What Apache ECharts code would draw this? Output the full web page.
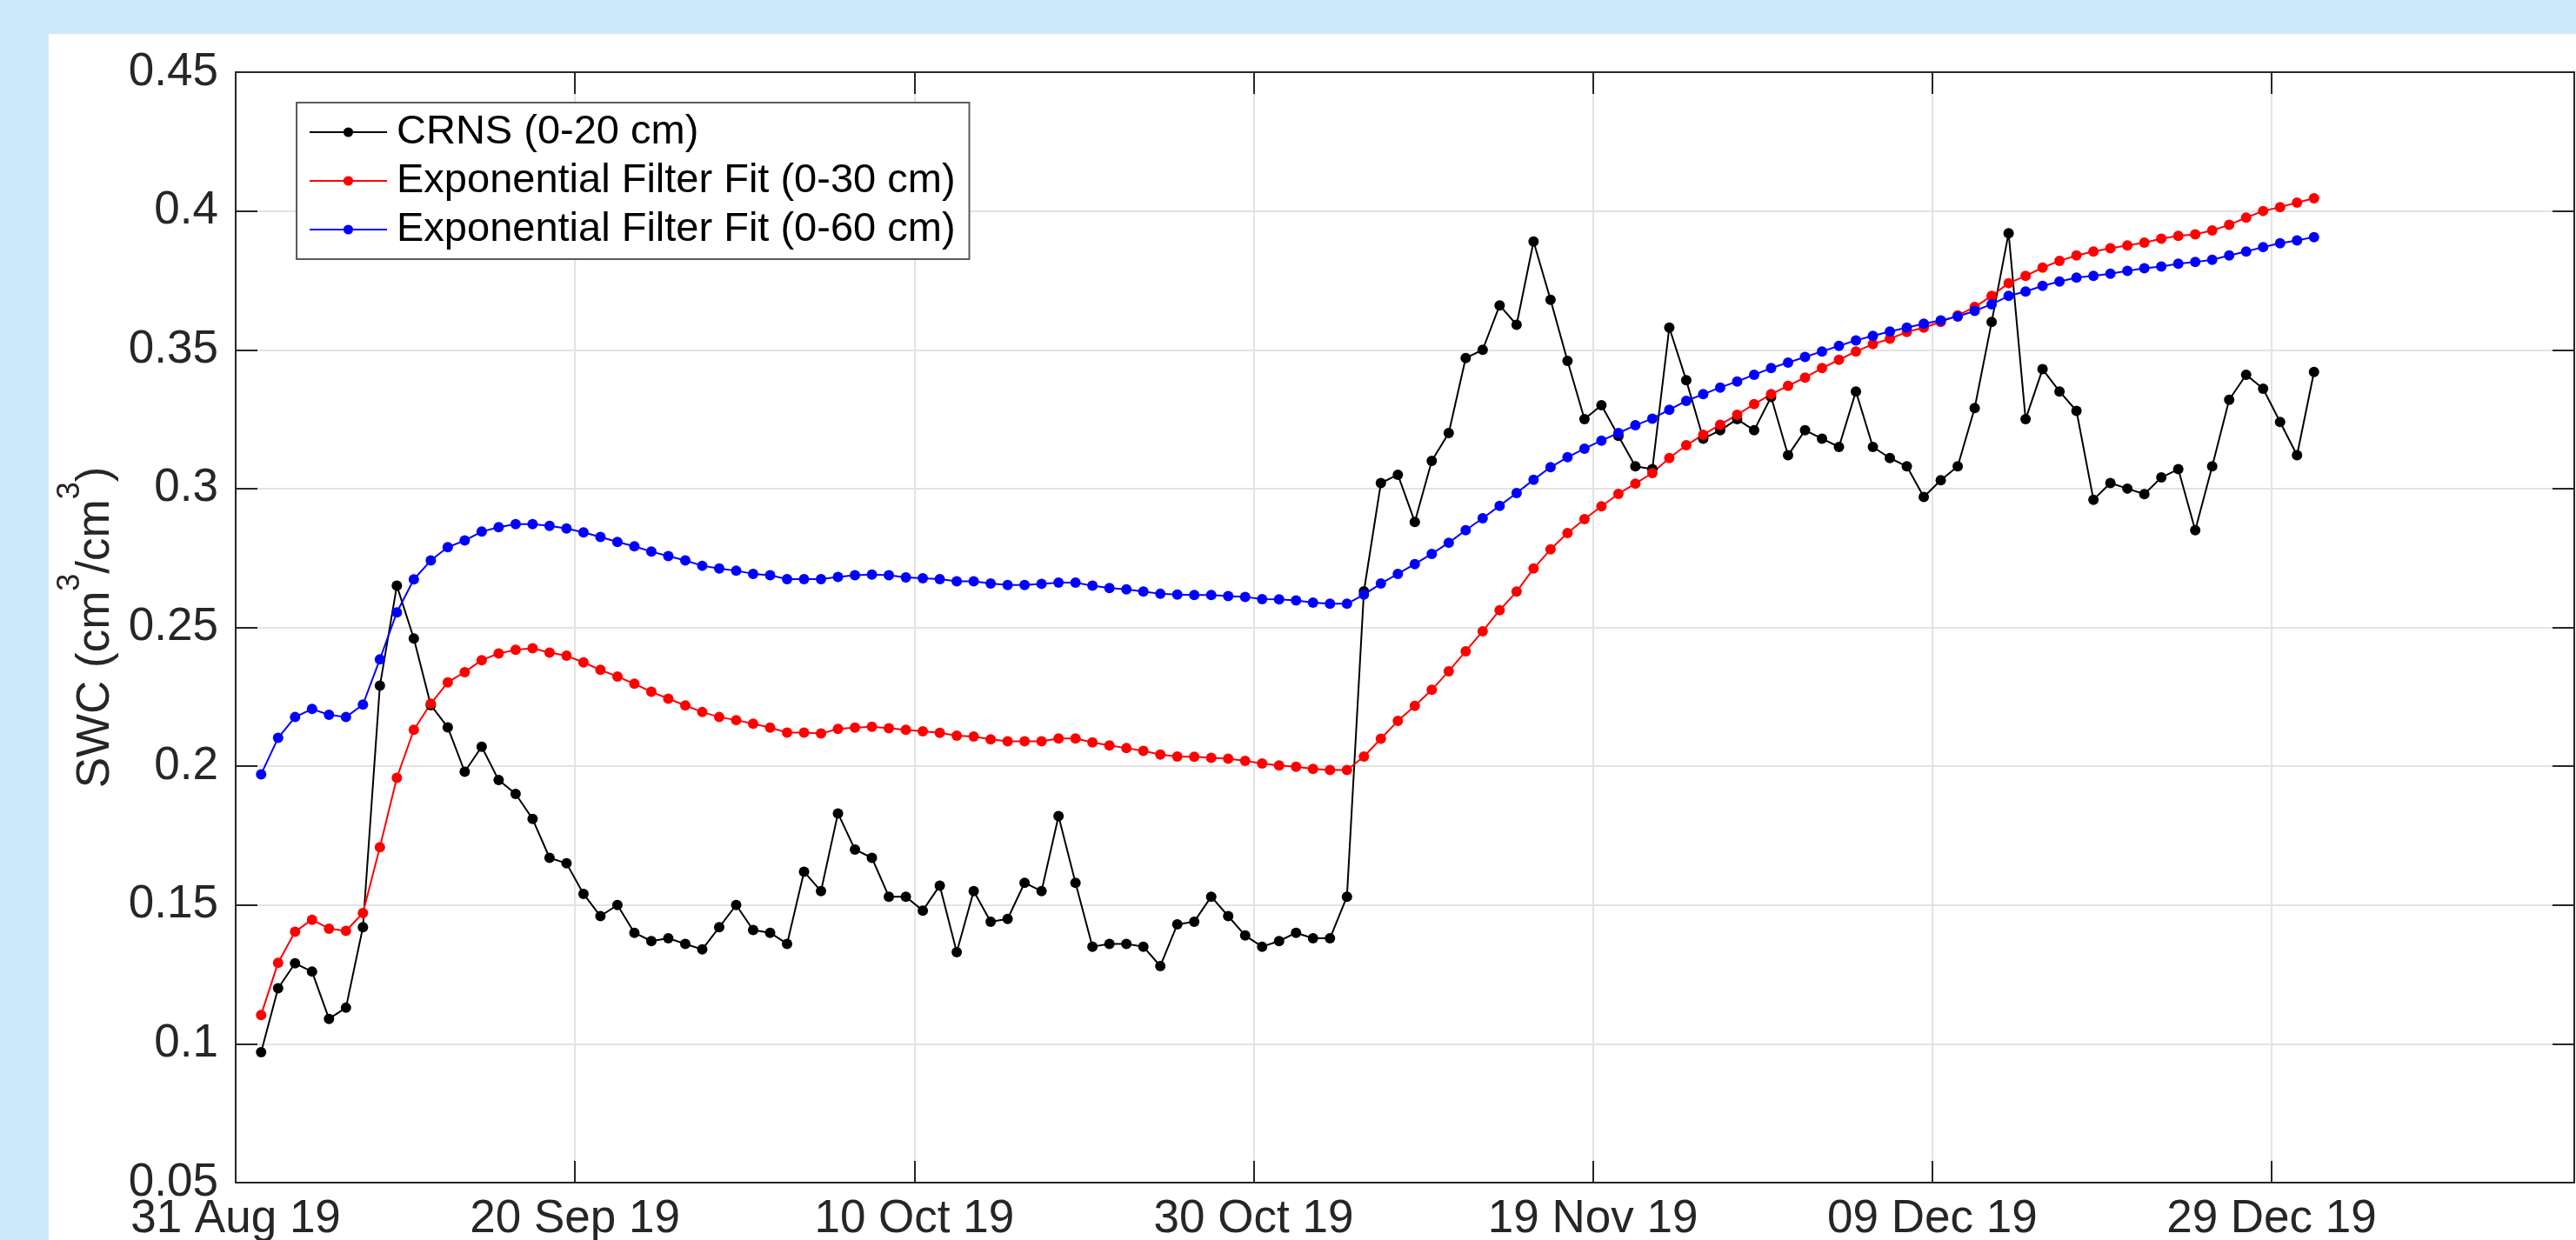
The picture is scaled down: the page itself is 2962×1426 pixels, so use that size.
<!DOCTYPE html>
<html><head><meta charset="utf-8">
<script src="https://cdn.jsdelivr.net/npm/echarts@6/dist/echarts.min.js"></script>
<style>
html,body{margin:0;padding:0;background:#cbe9fb;width:2962px;height:1426px;overflow:hidden;}
#panel{position:absolute;left:56px;top:39px;right:0;bottom:0;background:#fff;}
#chart{position:absolute;left:0;top:0;width:2962px;height:1426px;}
</style></head><body>
<div id="panel"></div>
<div id="chart"></div>
<script>
// ---- data ----
const axisStart = '2019-08-31T00:00:00Z';   // first x tick / left edge
const firstSample = '2019-09-01T12:00:00Z'; // first daily sample
const axisEndDays = 137.84;                  // right edge of x axis (days after axisStart)
const tickStepDays = 20;
const seriesNames = ['CRNS (0-20 cm)', 'Exponential Filter Fit (0-30 cm)', 'Exponential Filter Fit (0-60 cm)'];
const seriesColors = ['#000000', '#ff0000', '#0000ff'];
const yMin = 0.05, yMax = 0.45, yStep = 0.05;
const monthNames = ['Jan','Feb','Mar','Apr','May','Jun','Jul','Aug','Sep','Oct','Nov','Dec'];

const crns = [
  0.097,0.120,0.129,0.126,0.109,0.113,0.142,0.229,0.265,0.246,
  0.222,0.214,0.198,0.207,0.195,0.190,0.181,0.167,0.165,0.154,
  0.146,0.150,0.140,0.137,0.138,0.136,0.134,0.142,0.150,0.141,
  0.140,0.136,0.162,0.155,0.183,0.170,0.167,0.153,0.153,0.148,
  0.157,0.133,0.155,0.144,0.145,0.158,0.155,0.182,0.158,0.135,
  0.136,0.136,0.135,0.128,0.143,0.144,0.153,0.146,0.139,0.135,
  0.137,0.140,0.138,0.138,0.153,0.263,0.302,0.305,0.288,0.310,
  0.320,0.347,0.350,0.366,0.359,0.389,0.368,0.346,0.325,0.330,
  0.319,0.308,0.307,0.358,0.339,0.318,0.321,0.325,0.321,0.333,
  0.312,0.321,0.318,0.315,0.335,0.315,0.311,0.308,0.297,0.303,
  0.308,0.329,0.360,0.392,0.325,0.343,0.335,0.328,0.296,0.302,
  0.300,0.298,0.304,0.307,0.285,0.308,0.332,0.341,0.336,0.324,
  0.312,0.342
];
const fit30 = [
  0.1104,0.1292,0.1404,0.1447,0.1415,0.1407,0.1471,0.1708,0.1958,0.2131,
  0.2225,0.2302,0.2339,0.2382,0.2406,0.2419,0.2425,0.2409,0.2398,0.2374,
  0.2347,0.2323,0.2297,0.2268,0.2243,0.2219,0.2195,0.2177,0.2166,0.2153,
  0.2139,0.2121,0.2121,0.2118,0.2134,0.2139,0.2142,0.2137,0.2131,0.2126,
  0.2120,0.2110,0.2107,0.2097,0.2090,0.2090,0.2090,0.2100,0.2100,0.2086,
  0.2075,0.2065,0.2055,0.2042,0.2035,0.2034,0.2030,0.2027,0.2019,0.2010,
  0.2003,0.1998,0.1990,0.1986,0.1986,0.2035,0.2099,0.2163,0.2217,0.2275,
  0.2342,0.2414,0.2486,0.2562,0.2629,0.2712,0.2781,0.2840,0.2890,0.2936,
  0.2981,0.3018,0.3056,0.3110,0.3156,0.3194,0.3230,0.3266,0.3304,0.3340,
  0.3370,0.3400,0.3434,0.3464,0.3494,0.3520,0.3540,0.3564,0.3580,0.3600,
  0.3624,0.3654,0.3694,0.3740,0.3766,0.3796,0.3820,0.3840,0.3854,0.3866,
  0.3876,0.3886,0.3900,0.3910,0.3916,0.3930,0.3950,0.3976,0.4000,0.4014,
  0.4030,0.4046
];
const fit60 = [
  0.1971,0.2102,0.2177,0.2206,0.2185,0.2177,0.2222,0.2385,0.2554,0.2673,
  0.2741,0.2789,0.2813,0.2845,0.2861,0.2872,0.2872,0.2866,0.2856,0.2842,
  0.2826,0.2808,0.2792,0.2773,0.2757,0.2741,0.2722,0.2712,0.2704,0.2693,
  0.2688,0.2674,0.2674,0.2674,0.2682,0.2688,0.2690,0.2688,0.2680,0.2677,
  0.2674,0.2666,0.2666,0.2658,0.2653,0.2653,0.2657,0.2661,0.2661,0.2650,
  0.2642,0.2637,0.2629,0.2621,0.2618,0.2617,0.2617,0.2613,0.2610,0.2602,
  0.2601,0.2597,0.2589,0.2585,0.2585,0.2618,0.2658,0.2693,0.2728,0.2765,
  0.2805,0.2850,0.2893,0.2938,0.2984,0.3032,0.3077,0.3113,0.3144,0.3173,
  0.3200,0.3228,0.3252,0.3284,0.3316,0.3340,0.3364,0.3386,0.3410,0.3434,
  0.3454,0.3474,0.3494,0.3514,0.3534,0.3550,0.3566,0.3580,0.3594,0.3606,
  0.3620,0.3640,0.3664,0.3694,0.3710,0.3730,0.3746,0.3760,0.3766,0.3774,
  0.3784,0.3794,0.3800,0.3810,0.3816,0.3824,0.3840,0.3854,0.3870,0.3884,
  0.3894,0.3906
];

// ---- build ----
const DAY = 86400000;
const t0 = Date.parse(axisStart);
const firstOffset = (Date.parse(firstSample) - t0) / DAY;
const xDays = crns.map((_, i) => firstOffset + i);   // one sample per day

function fmtDate(v) {
  const d = new Date(t0 + Math.round(v * DAY));
  const dd = String(d.getUTCDate()).padStart(2, '0');
  const yy = String(d.getUTCFullYear() % 100).padStart(2, '0');
  return dd + ' ' + monthNames[d.getUTCMonth()] + ' ' + yy;
}

const FONT = '"Liberation Sans", Arial, Helvetica, sans-serif';
const AX = '#262626';
const GRID = '#e3e3e3';

function mkSeries(name, vals, color) {
  return {
    name: name, type: 'line',
    data: vals.map((v, i) => [xDays[i], v]),
    symbol: 'circle', symbolSize: 12, showSymbol: true, showAllSymbol: true,
    lineStyle: { width: 2, color: color },
    itemStyle: { color: color },
    emphasis: { disabled: true },
    animation: false
  };
}

const chart = echarts.init(document.getElementById('chart'), null, { renderer: 'canvas' });
chart.setOption({
  animation: false,
  backgroundColor: 'transparent',
  grid: { left: 271, right: 2, top: 83, bottom: 66, containLabel: false, outerBoundsMode: 'none' },
  legend: {
    orient: 'vertical', left: 341, top: 118,
    padding: [10, 16, 10, 14], itemGap: 8, itemWidth: 89, itemHeight: 14,
    backgroundColor: '#ffffff', borderColor: '#5a5a5a', borderWidth: 2, borderRadius: 0,
    selectedMode: false,
    textStyle: { fontFamily: FONT, fontSize: 47, color: '#000', lineHeight: 48, padding: [0, 0, 0, 6] },
    data: seriesNames
  },
  xAxis: [{
    type: 'value', position: 'bottom', min: 0, max: axisEndDays, interval: tickStepDays,
    axisLine: { show: true, onZero: false, lineStyle: { color: AX, width: 2 } },
    axisTick: { show: true, inside: true, length: 25, lineStyle: { color: AX, width: 2 } },
    axisLabel: { margin: 16, fontSize: 53, fontFamily: FONT, color: AX, formatter: fmtDate, showMaxLabel: false, showMinLabel: true },
    splitLine: { show: true, lineStyle: { color: GRID, width: 2 } }
  }, {
    type: 'value', position: 'top', min: 0, max: axisEndDays, interval: tickStepDays,
    axisLine: { show: true, onZero: false, lineStyle: { color: AX, width: 2 } },
    axisTick: { show: true, inside: true, length: 25, lineStyle: { color: AX, width: 2 } },
    axisLabel: { show: false }, splitLine: { show: false }
  }],
  yAxis: [{
    type: 'value', position: 'left', min: yMin, max: yMax, interval: yStep,
    axisLine: { show: true, onZero: false, lineStyle: { color: AX, width: 2 } },
    axisTick: { show: true, inside: true, length: 25, lineStyle: { color: AX, width: 2 } },
    axisLabel: { margin: 20, fontSize: 53, fontFamily: FONT, color: AX },
    splitLine: { show: true, lineStyle: { color: GRID, width: 2 } },
    name: '{b|SWC (cm}{s|3}{b|/cm}{s|3}{b|)}', nameLocation: 'middle', nameRotate: 90, nameGap: 124,
    nameTextStyle: {
      fontSize: 53, fontFamily: FONT, color: AX,
      rich: {
        b: { fontSize: 53, fontFamily: FONT, color: AX, lineHeight: 74, verticalAlign: 'bottom' },
        s: { fontSize: 36, fontFamily: FONT, color: AX, lineHeight: 74, verticalAlign: 'top' }
      }
    }
  }, {
    type: 'value', position: 'right', min: yMin, max: yMax, interval: yStep,
    axisLine: { show: true, onZero: false, lineStyle: { color: AX, width: 2 } },
    axisTick: { show: true, inside: true, length: 25, lineStyle: { color: AX, width: 2 } },
    axisLabel: { show: false }, splitLine: { show: false }
  }],
  series: [
    mkSeries(seriesNames[0], crns, seriesColors[0]),
    mkSeries(seriesNames[1], fit30, seriesColors[1]),
    mkSeries(seriesNames[2], fit60, seriesColors[2])
  ]
});
</script>
</body></html>
